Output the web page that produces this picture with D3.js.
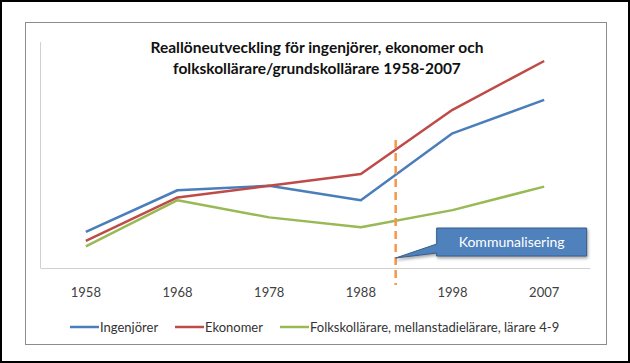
<!DOCTYPE html>
<html><head><meta charset="utf-8">
<script src="https://cdn.jsdelivr.net/npm/d3@7"></script>
<style>
html,body{margin:0;padding:0;background:#fff;}
svg{display:block;}
text{font-family:Lato,"Open Sans",sans-serif;}
</style></head>
<body><svg id="c" width="630" height="363"></svg>
<script>
const categories = ["1958","1968","1978","1988","1998","2007"];
const ingenjorer = [40, 86, 91, 75, 149, 186];
const ekonomer   = [30, 78, 91, 104, 175, 229];
const folkskol   = [24, 75, 56, 45, 64, 90];
const seriesNames = ["Ingenjörer","Ekonomer","Folkskollärare, mellanstadielärare, lärare 4-9"];
const seriesColors = ["#4a7ebb","#be4b48","#98b954"];
const titleLines = ["Reallöneutveckling för ingenjörer, ekonomer och","folkskollärare/grundskollärare 1958-2007"];
const eventLabel = "Kommunalisering";
const eventIndex = 3.38; // position between 1988 and 1998

const svg = d3.select("#c");
const W = 630, H = 363;
// outer frame
svg.append("rect").attr("x",1).attr("y",1).attr("width",W-2).attr("height",H-2)
  .attr("fill","#fff").attr("stroke","#000").attr("stroke-width",2);
// inner chart area border
svg.append("rect").attr("x",25.5).attr("y",22.5).attr("width",581).attr("height",322)
  .attr("fill","#fff").attr("stroke","#8c8c8c").attr("stroke-width",1);

const plot = {left:40, right:590, top:42, bottom:268};
const x = d3.scaleBand().domain(categories).range([plot.left, plot.right]);
const y = d3.scaleLinear().domain([0, 250]).range([plot.bottom, plot.top]);
const cx = c => x(c) + x.bandwidth()/2;

// y axis line (no labels)
svg.append("line").attr("x1",plot.left+0.5).attr("x2",plot.left+0.5)
  .attr("y1",plot.top).attr("y2",plot.bottom).attr("stroke","#d0d0d0").attr("stroke-width",1);

// x axis
const xAxis = d3.axisBottom(x).tickSize(0).tickPadding(20);
const gx = svg.append("g").attr("transform",`translate(0,${plot.bottom})`).call(xAxis);
gx.attr("font-family",null).attr("font-size",null);
gx.select(".domain").attr("stroke","#d0d0d0");
gx.selectAll("text").attr("font-size",13).attr("font-weight","normal").attr("fill","#404040");

// title
svg.append("g").selectAll("text").data(titleLines).join("text")
  .attr("x",317).attr("y",(d,i)=>53+i*21).attr("text-anchor","middle")
  .attr("font-size",15.5).attr("font-weight","bold").attr("fill","#111").text(d=>d);

// lines
const allSeries = [ingenjorer, ekonomer, folkskol];
const line = d3.line().x((d,i)=>cx(categories[i])).y(d=>y(d));
svg.append("g").selectAll("path").data(allSeries).join("path")
  .attr("d",line).attr("fill","none")
  .attr("stroke",(d,i)=>seriesColors[i]).attr("stroke-width",2.5)
  .attr("stroke-linejoin","round");

// event dashed line
const step = x.step();
const ex = cx(categories[0]) + eventIndex*step;
svg.append("line").attr("x1",ex).attr("x2",ex).attr("y1",140).attr("y2",plot.bottom+17)
  .attr("stroke","#f79646").attr("stroke-width",2.5).attr("stroke-dasharray","8,5");

// callout
const bx = ex + 41, by = 228, bw = 150, bh = 28;
const callout = svg.append("g");
callout.append("path")
  .attr("d",`M${bx},${by} H${bx+bw} V${by+bh} H${bx} V${by+25} L${ex},${plot.bottom-10} L${bx},${by+16} Z`)
  .attr("fill","#4f81bd").attr("stroke","#385d8a").attr("stroke-width",1)
  .style("filter","drop-shadow(1px 2px 1.5px rgba(0,0,0,0.35))");
callout.append("text").attr("x",bx+bw/2).attr("y",by+bh/2+5).attr("text-anchor","middle")
  .attr("font-size",14).attr("fill","#fff").text(eventLabel);

// legend
const legendX = [70, 175, 280];
const lg = svg.append("g").selectAll("g").data(seriesNames).join("g")
  .attr("transform",(d,i)=>`translate(${legendX[i]},327)`);
lg.append("line").attr("x1",0).attr("x2",29).attr("y1",0).attr("y2",0)
  .attr("stroke",(d,i)=>seriesColors[i]).attr("stroke-width",2.5);
lg.append("text").attr("x",30).attr("y",4.5).attr("font-size",13).attr("fill","#333").text(d=>d);
</script></body></html>
